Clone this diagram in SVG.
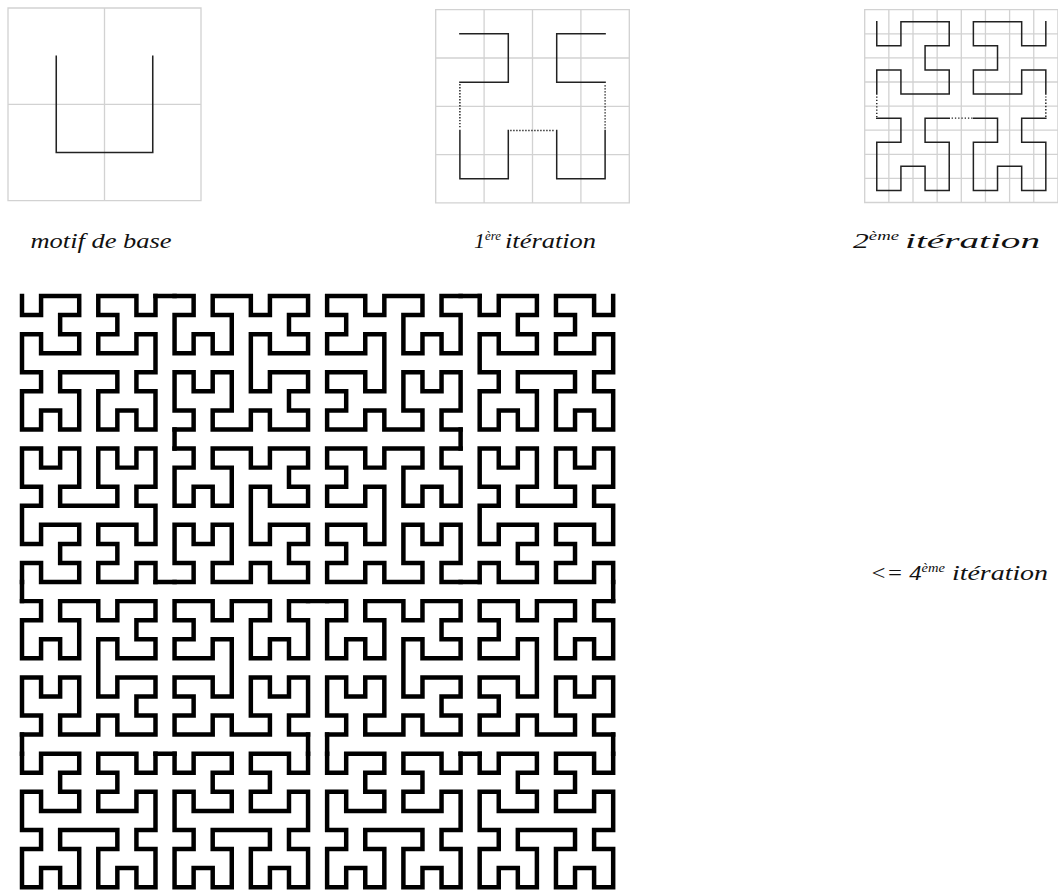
<svg xmlns="http://www.w3.org/2000/svg" width="1058" height="891" viewBox="0 0 1058 891">
<style>
.lbl{font-family:"Liberation Serif","Times New Roman",serif;font-style:italic;font-size:22px;fill:#111}
.sup{font-size:13px}
.grid{fill:none;stroke:#d2d2d2}
.cv{fill:none;stroke:#222;stroke-linecap:square}
.dot{fill:none;stroke:#222}
</style>
<defs>
<path id="h3" d="M0,0V1H1V0H3V1H2V2H3V3H1V2H0V4H1V5H0V7H1V6H2V7H3V5H2V4H5V5H4V7H5V6H6V7H7V5H6V4H7V2H6V3H4V2H5V1H4V0H6V1H7V0"/>
<g id="h4">
<use href="#h3" transform="matrix(0,1,1,0,0,0)"/>
<path d="M0,7V8M7,8H8M15,8V7"/>
<use href="#h3" transform="translate(0,8)"/>
<use href="#h3" transform="translate(8,8)"/>
<use href="#h3" transform="matrix(0,-1,-1,0,15,7)"/>
</g>
</defs>

<g id="panel-base" transform="translate(8,8) scale(96.5,96.3)">
<path class="grid" stroke-width="0.0135" d="M0,0H2V2H0ZM1,0V2M0,1H2"/>
<path class="cv" stroke-width="0.016" d="M0.5,0.5V1.5H1.5V0.5"/>
</g>

<g id="panel-iter1" transform="translate(435.7,9.7) scale(48.4,48.3)">
<path class="grid" stroke-width="0.027" d="M0,0H4V4H0ZM1,0V4M2,0V4M3,0V4M0,1H4M0,2H4M0,3H4"/>
<g transform="translate(0.5,0.5)">
<path class="cv" stroke-width="0.031" d="M0,0H1V1H0M0,2V3H1V2M2,2V3H3V2M3,1H2V0H3"/>
<path class="dot" stroke-width="0.03" stroke-dasharray="0.028 0.034" d="M0,1.04V1.96M1.04,2H1.96M3,1.96V1.04"/>
</g>
</g>

<g id="panel-iter2" transform="translate(864.7,9.7) scale(24.15,24.1)">
<path class="grid" stroke-width="0.054" d="M0,0H8V8H0ZM1,0V8M2,0V8M3,0V8M4,0V8M5,0V8M6,0V8M7,0V8M0,1H8M0,2H8M0,3H8M0,4H8M0,5H8M0,6H8M0,7H8"/>
<g transform="translate(0.5,0.5)">
<path class="cv" stroke-width="0.062" d="M0,0V1H1V0H3V1H2V2H3V3H1V2H0V3M0,4H1V5H0V7H1V6H2V7H3V5H2V4H3M4,4H5V5H4V7H5V6H6V7H7V5H6V4H7M7,3V2H6V3H4V2H5V1H4V0H6V1H7V0"/>
<path class="dot" stroke-width="0.06" stroke-dasharray="0.055 0.08" d="M0,3.1V3.95M3.1,4H3.95M7,3.95V3.1"/>
</g>
</g>

<g id="curve-iter4" transform="translate(22,296) scale(19.07)" fill="none" stroke="#000" stroke-width="0.235" stroke-linecap="square">
<use href="#h4" transform="matrix(0,1,1,0,0,0)"/>
<path d="M0,15V16M15,16H16M31,16V15"/>
<use href="#h4" transform="translate(0,16)"/>
<use href="#h4" transform="translate(16,16)"/>
<use href="#h4" transform="matrix(0,-1,-1,0,31,15)"/>
</g>

<g id="labels">
<text class="lbl" x="30.5" y="248" textLength="141" lengthAdjust="spacingAndGlyphs">motif de base</text>
<text class="lbl" x="474" y="248">1<tspan class="sup" dy="-8">ère</tspan></text>
<text class="lbl" x="505" y="248" textLength="91" lengthAdjust="spacingAndGlyphs">itération</text>
<text class="lbl" x="853" y="248" textLength="46" lengthAdjust="spacingAndGlyphs">2<tspan class="sup" dy="-8">ème</tspan></text>
<text class="lbl" x="905" y="248" textLength="135" lengthAdjust="spacingAndGlyphs">itération</text>
<text class="lbl" x="870" y="580" textLength="75" lengthAdjust="spacingAndGlyphs">&lt;= 4<tspan class="sup" dy="-8">ème</tspan></text>
<text class="lbl" x="952" y="580" textLength="96" lengthAdjust="spacingAndGlyphs">itération</text>
</g>
</svg>
